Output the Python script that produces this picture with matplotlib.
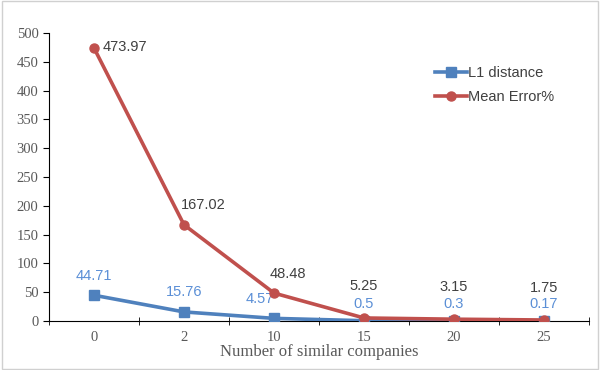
import matplotlib.pyplot as plt
import numpy as np
from matplotlib.patches import Rectangle

categories = ["0", "2", "10", "15", "20", "25"]
l1_distance = [44.71, 15.76, 4.57, 0.5, 0.3, 0.17]
mean_error = [473.97, 167.02, 48.48, 5.25, 3.15, 1.75]

# label offsets in points (dx, dy)
l1_offsets = [(0, 14), (0, 14), (-10, 14), (0, 12), (0, 12), (0, 12)]
err_offsets = [(22, 1), (14, 14), (10, 14), (0, 23), (0, 23), (0, 23)]

blue = "#4F81BD"
red = "#C0504D"
blue_txt = "#5B8FD6"
gray_txt = "#404040"

fig = plt.figure(figsize=(6, 3.7), dpi=100)
fig.patches.append(Rectangle((0.003, 0.003), 0.994, 0.994, transform=fig.transFigure,
                             fill=False, edgecolor="#D0D0D0", lw=1))
ax = fig.add_axes([49 / 600, 49 / 370, 540 / 600, 288 / 370])

x = np.arange(len(categories))
ax.plot(x, l1_distance, color=blue, lw=2.6, marker="s", ms=6.5, label="L1 distance", zorder=3)
ax.plot(x, mean_error, color=red, lw=2.6, marker="o", ms=6.5, label="Mean Error%", zorder=4)

for xi, v, (dx, dy) in zip(x, l1_distance, l1_offsets):
    ax.annotate(f"{v:g}", (xi, v), xytext=(dx, dy), textcoords="offset points",
                ha="center", va="center", color=blue_txt, fontsize=10.5,
                family="Liberation Sans")
for xi, v, (dx, dy) in zip(x, mean_error, err_offsets):
    ax.annotate(f"{v:g}", (xi, v), xytext=(dx, dy), textcoords="offset points",
                ha="center", va="center", color=gray_txt, fontsize=10.5,
                family="Liberation Sans")

ax.set_xlim(-0.5, len(categories) - 0.5)
ax.set_ylim(0, 500)
ax.set_yticks(np.arange(0, 501, 50))
ax.set_xticks(x)
ax.set_xticklabels(categories)
ax.set_xticks(np.arange(-0.5, len(categories)), minor=True)
ax.tick_params(axis="x", which="major", length=0, pad=7, labelsize=10.5, labelcolor="#595959")
ax.tick_params(axis="x", which="minor", direction="inout", length=6, color="black")
ax.tick_params(axis="y", direction="out", length=4, labelsize=10.5, labelcolor="#595959")
for lab in ax.get_xticklabels() + ax.get_yticklabels():
    lab.set_family("Liberation Serif")

for side in ("top", "right"):
    ax.spines[side].set_visible(False)
ax.spines["left"].set_color("black")
ax.spines["bottom"].set_color("black")

ax.set_xlabel("Number of similar companies", family="Liberation Serif", fontsize=12,
              color="#595959", labelpad=0)

leg = ax.legend(loc="upper left", bbox_to_anchor=(0.69, 0.93), frameon=False,
                handlelength=2.2, labelspacing=0.7, handletextpad=0.1,
                prop={"family": "Liberation Sans", "size": 10.5})
for t in leg.get_texts():
    t.set_color(gray_txt)

fig.savefig("out.png", dpi=100)
